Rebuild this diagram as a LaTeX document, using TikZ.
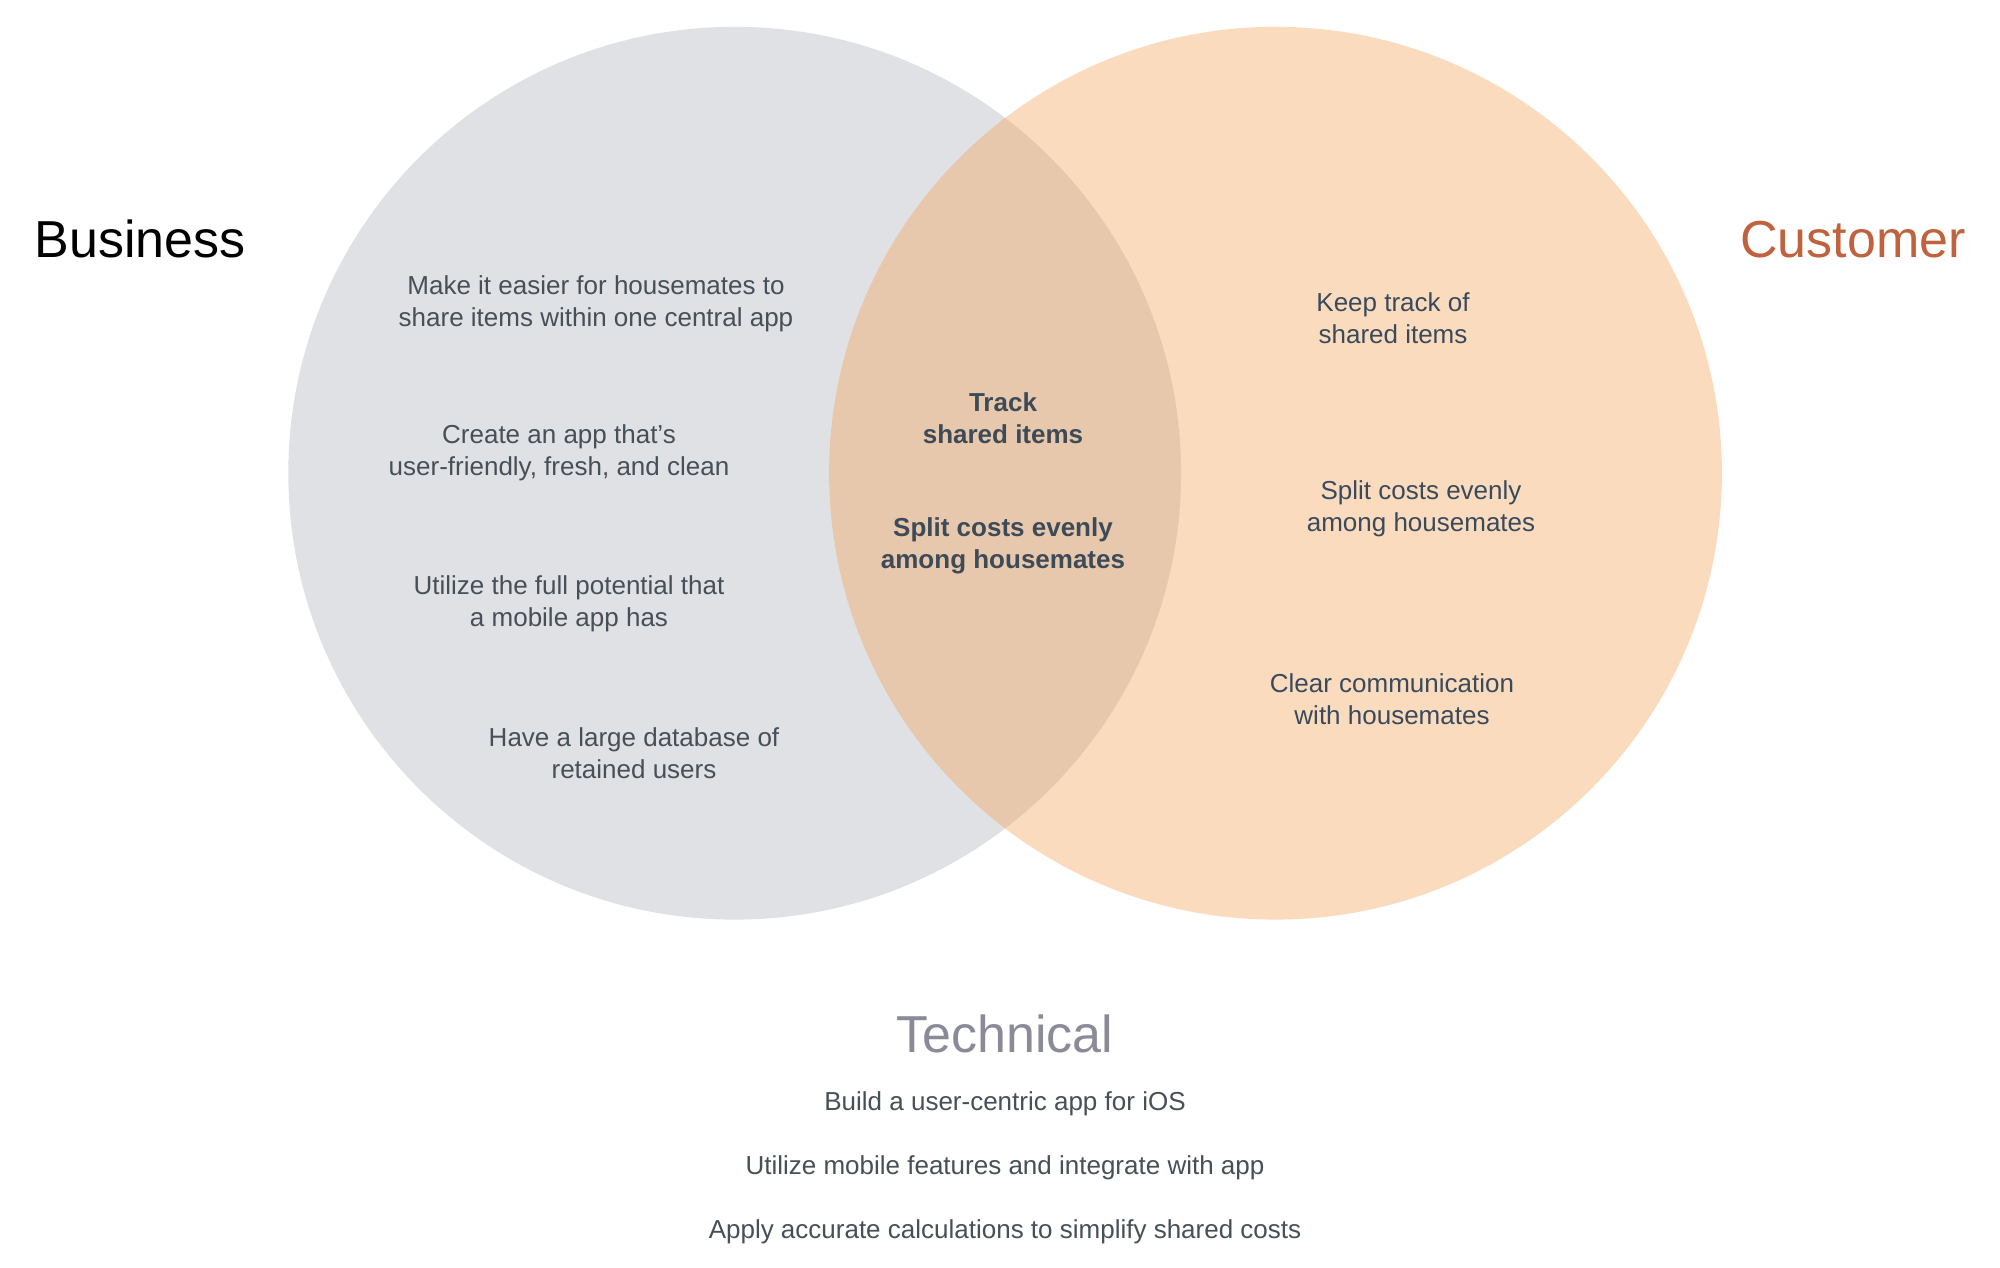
\documentclass[tikz,border=0pt]{standalone}
\usepackage{fontspec}
\setmainfont{Liberation Sans}
\definecolor{bizgray}{HTML}{E0E1E5}
\definecolor{custorange}{HTML}{FBDBBE}
\definecolor{overlapc}{HTML}{E8C8AC}
\definecolor{custtitle}{HTML}{C0623D}
\definecolor{techtitle}{HTML}{8A8A99}
\definecolor{lefttext}{HTML}{474F57}
\definecolor{righttext}{HTML}{394A5C}
\definecolor{midtext}{HTML}{3D4A58}
\begin{document}
\begin{tikzpicture}[x=1pt,y=-1pt,
  title/.style={font=\fontsize{52}{60}\selectfont, anchor=base, inner sep=0},
  body/.style={font=\fontsize{26}{32}\selectfont, align=center, inner sep=0},
  midbody/.style={body, font=\fontsize{26}{32}\selectfont\bfseries, text=midtext},
  tech/.style={font=\fontsize{26}{32}\selectfont, anchor=base, inner sep=0, text=lefttext}]
\useasboundingbox (0,0) rectangle (2000,1268);
\fill[white] (0,0) rectangle (2000,1268);
% circles
\fill[bizgray] (734.7,473.2) circle[radius=446.4];
\fill[custorange] (1275.5,473.2) circle[radius=446.4];
\begin{scope}
  \clip (734.7,473.2) circle[radius=446.4];
  \fill[overlapc] (1275.5,473.2) circle[radius=446.4];
\end{scope}
% titles
\node[title, text=black] (biz) at (140,258) {Business};
\node[title, text=custtitle] (cust) at (1853,258) {Customer};
\node[title, text=techtitle] (tech) at (1005,1052) {Technical};
% left
\node[body, text=lefttext] (l1) at (596,304) {Make it easier for housemates to\\share items within one central app};
\node[body, text=lefttext] (l2) at (559,453) {Create an app that’s\\user-friendly, fresh, and clean};
\node[body, text=lefttext] (l3) at (569,604) {Utilize the full potential that\\a mobile app has};
\node[body, text=lefttext] (l4) at (634,753) {Have a large database of\\retained users};
% middle
\node[midbody] (m1) at (1003,418) {Track\\shared items};
\node[midbody] (m2) at (1003,546) {Split costs evenly\\among housemates};
% right
\node[body, text=righttext] (r1) at (1393,318) {Keep track of\\shared items};
\node[body, text=righttext] (r2) at (1421,509) {Split costs evenly\\among housemates};
\node[body, text=righttext] (r3) at (1392,699) {Clear communication\\with housemates};
% technical
\node[tech] (t1) at (1005,1110) {Build a user-centric app for iOS};
\node[tech] (t2) at (1005,1174) {Utilize mobile features and integrate with app};
\node[tech] (t3) at (1005,1238) {Apply accurate calculations to simplify shared costs};
\end{tikzpicture}
\end{document}
